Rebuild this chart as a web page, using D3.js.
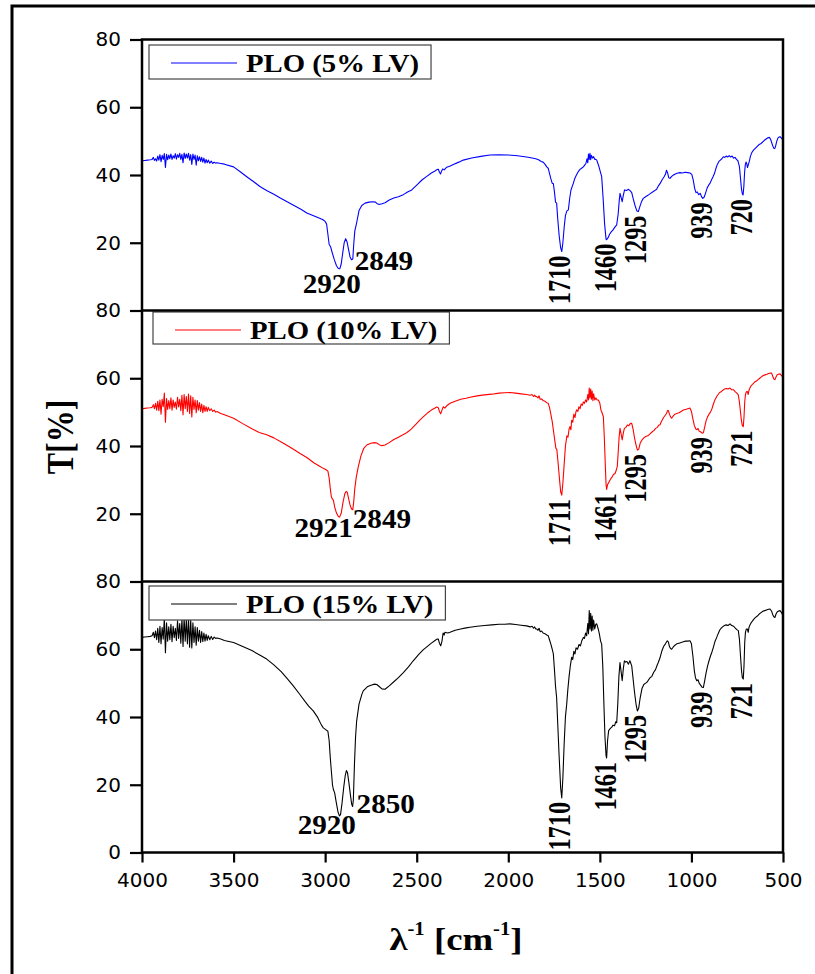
<!DOCTYPE html>
<html>
<head>
<meta charset="utf-8">
<script src="https://cdn.jsdelivr.net/npm/d3@7"></script>
<style>
  body { margin: 0; background: #fff; }
  svg { display: block; }
</style>
</head>
<body>
<svg id="chart" width="815" height="974"></svg>
<script>
// x ticks (wavenumber, cm-1)
const xTicks = [4000, 3500, 3000, 2500, 2000, 1500, 1000, 500];
const seriesNames = ["PLO (5% LV)", "PLO (10% LV)", "PLO (15% LV)"];
const seriesColors = ["#0000ff", "#ff0000", "#000000"];

// [wavenumber, T%]
const plo5 = [
  [4000,44.2],[3985,44.3],[3970,44.4],[3955,44.5],[3945,44.6],[3938,45.2],[3932,44.3],[3926,44.8],[3920,44.1],
  [3914,45.6],[3908,44.4],[3902,46.0],[3896,43.9],[3890,45.8],[3884,44.6],[3878,46.3],[3872,42.2],[3866,46.1],
  [3860,44.5],[3854,45.9],[3848,44.8],[3842,46.2],[3836,44.6],[3830,45.7],[3824,45.0],[3818,46.3],[3812,44.7],
  [3806,46.0],[3800,45.2],[3794,46.4],[3788,44.6],[3782,46.1],[3776,43.6],[3770,46.5],[3764,44.9],[3758,46.2],
  [3752,45.0],[3746,46.4],[3740,44.4],[3734,46.0],[3728,43.1],[3722,46.2],[3716,44.6],[3710,45.9],[3704,42.9],
  [3698,45.7],[3692,44.2],[3686,45.4],[3680,44.0],[3674,45.2],[3668,43.8],[3662,45.0],[3656,43.5],[3650,44.6],
  [3644,43.6],[3638,44.4],[3630,43.5],[3622,44.1],[3614,43.4],[3606,43.8],[3598,43.5],[3590,43.6],[3570,43.4],
  [3550,43.2],[3500,42.4],[3460,40.8],[3428,39.5],[3390,38.0],[3356,36.6],[3320,35.4],[3280,34.3],[3245,33.2],
  [3210,32.2],[3170,31.0],[3130,29.8],[3100,28.8],[3060,27.9],[3030,27.2],[3012,26.8],[3000,26.3],[2992,25.5],
  [2985,22.5],[2978,19.5],[2970,18.8],[2962,17.2],[2950,15.0],[2938,13.2],[2928,12.4],[2920,12.3],[2912,13.8],
  [2904,17.0],[2896,20.0],[2888,21.2],[2880,20.2],[2872,18.0],[2864,15.8],[2856,15.0],[2849,15.2],[2844,19.5],
  [2838,23.5],[2828,25.9],[2815,29.5],[2800,31.0],[2782,31.7],[2760,32.0],[2740,32.1],[2725,32.0],[2718,31.6],
  [2705,31.3],[2690,31.5],[2673,31.8],[2650,32.6],[2625,33.2],[2600,33.6],[2573,34.2],[2550,35.0],[2527,35.6],
  [2500,37.0],[2470,38.6],[2445,39.6],[2420,40.6],[2400,41.2],[2390,41.6],[2382,41.7],[2376,40.8],[2370,40.3],
  [2364,41.2],[2358,41.8],[2350,41.5],[2336,42.3],[2320,42.6],[2300,43.1],[2270,43.8],[2246,44.4],[2200,45.0],
  [2150,45.5],[2100,45.9],[2050,46.0],[2000,45.9],[1950,45.7],[1900,45.3],[1870,45.0],[1850,44.8],[1835,44.5],
  [1820,44.0],[1810,43.8],[1800,43.2],[1790,42.4],[1782,42.0],[1775,40.5],[1768,39.0],[1760,37.5],[1754,37.5],
  [1748,35.0],[1742,32.0],[1736,31.7],[1730,27.0],[1722,22.0],[1714,18.5],[1708,17.4],[1702,20.0],[1695,24.5],
  [1688,28.0],[1680,29.4],[1672,29.7],[1665,33.0],[1658,35.5],[1650,36.8],[1645,37.5],[1638,38.8],[1630,39.8],
  [1620,40.8],[1610,41.6],[1600,42.0],[1590,42.4],[1582,43.0],[1576,43.4],[1570,44.8],[1566,43.6],[1562,46.2],
  [1558,44.6],[1554,46.4],[1550,44.5],[1546,45.8],[1540,45.0],[1534,45.4],[1528,44.6],[1522,44.6],[1517,44.4],
  [1505,42.5],[1495,40.5],[1490,39.5],[1482,33.0],[1474,25.5],[1466,21.0],[1463,20.9],[1455,21.5],[1447,22.5],
  [1438,23.2],[1428,23.8],[1418,24.6],[1408,25.3],[1400,28.5],[1394,32.5],[1390,34.6],[1384,33.4],[1378,32.1],
  [1372,34.0],[1365,35.6],[1355,35.4],[1345,35.8],[1335,35.4],[1326,34.8],[1318,33.0],[1308,31.0],[1298,29.4],
  [1290,29.2],[1282,30.6],[1272,32.2],[1263,33.1],[1250,33.6],[1238,34.0],[1225,34.5],[1212,35.0],[1200,35.4],
  [1190,35.8],[1180,36.8],[1170,37.6],[1160,38.6],[1150,39.4],[1142,40.2],[1136,41.4],[1130,40.6],[1124,39.2],
  [1117,39.0],[1108,39.6],[1098,40.0],[1088,40.3],[1078,40.5],[1063,40.7],[1050,40.6],[1035,40.8],[1020,40.7],
  [1008,40.6],[998,40.2],[990,38.5],[982,36.0],[975,34.8],[968,35.0],[960,34.2],[952,34.6],[945,33.6],[938,33.1],
  [930,33.5],[922,34.8],[914,36.2],[906,37.0],[898,37.6],[890,38.6],[882,39.5],[874,40.5],[866,42.0],[858,43.2],
  [850,44.0],[842,44.4],[834,44.8],[826,45.4],[818,45.2],[810,45.6],[802,45.3],[794,45.7],[786,45.3],[778,45.6],
  [770,45.0],[762,45.2],[754,44.6],[746,44.2],[738,42.5],[732,39.0],[727,36.0],[722,34.4],[718,34.1],[714,36.5],
  [710,40.5],[706,43.0],[702,43.8],[698,43.4],[694,42.2],[690,42.9],[684,44.0],[678,45.5],[672,46.4],[666,47.0],
  [660,47.4],[653,47.8],[645,48.2],[638,48.6],[630,49.0],[622,49.2],[614,49.6],[606,50.0],[598,50.4],[590,50.7],
  [582,51.0],[575,51.1],[568,50.6],[562,49.6],[556,48.6],[550,47.9],[545,47.8],[540,48.6],[534,50.0],[528,50.9],
  [522,51.2],[516,51.3],[510,51.0],[504,50.6],[500,50.4]
];

const plo10 = [
  [4000,51.0],[3985,51.1],[3970,51.2],[3955,51.3],[3945,51.4],[3938,52.2],[3932,51.0],[3926,52.6],[3920,50.6],
  [3914,53.2],[3908,50.4],[3902,53.6],[3896,49.4],[3890,53.8],[3884,51.6],[3878,55.6],[3872,47.0],[3866,54.0],
  [3860,50.8],[3854,53.4],[3848,51.0],[3842,54.2],[3836,50.6],[3830,53.6],[3824,51.4],[3818,53.0],[3812,50.9],
  [3806,54.4],[3800,51.5],[3794,53.8],[3788,50.4],[3782,55.0],[3776,49.2],[3770,55.2],[3764,51.0],[3758,54.6],
  [3752,50.2],[3746,55.3],[3740,49.6],[3734,54.8],[3728,48.6],[3722,54.4],[3716,50.8],[3710,53.6],[3704,49.8],
  [3698,53.4],[3692,50.6],[3686,52.8],[3680,50.2],[3674,52.4],[3668,49.8],[3662,52.0],[3656,50.2],[3650,51.6],
  [3644,50.2],[3638,51.4],[3630,50.4],[3622,51.0],[3614,50.2],[3606,50.6],[3598,50.0],[3590,50.2],[3570,49.6],
  [3550,49.2],[3500,48.2],[3450,46.6],[3400,45.1],[3360,44.0],[3319,43.3],[3280,42.4],[3240,41.2],[3200,39.9],
  [3160,38.6],[3137,37.8],[3100,36.6],[3060,35.0],[3030,34.0],[3010,33.4],[2995,33.0],[2985,32.6],[2978,30.5],
  [2972,27.5],[2966,25.0],[2960,24.3],[2955,24.0],[2948,22.0],[2938,20.2],[2928,19.2],[2921,19.0],[2912,20.2],
  [2902,23.5],[2892,26.0],[2885,26.6],[2879,26.3],[2872,24.5],[2864,22.6],[2856,21.4],[2849,21.2],[2844,23.5],
  [2838,27.5],[2830,30.8],[2819,33.9],[2805,37.0],[2790,39.2],[2773,40.3],[2750,40.8],[2730,41.0],[2718,40.9],
  [2705,40.4],[2690,40.1],[2673,40.3],[2650,41.0],[2625,41.9],[2600,42.6],[2575,43.3],[2555,43.9],[2530,45.0],
  [2505,46.4],[2482,47.7],[2460,48.8],[2440,49.8],[2420,50.6],[2400,51.2],[2391,51.5],[2382,51.3],[2376,50.2],
  [2369,49.5],[2362,50.6],[2355,51.6],[2346,51.2],[2336,51.9],[2318,52.6],[2290,53.2],[2260,53.8],[2230,54.1],
  [2209,54.4],[2170,54.8],[2130,55.1],[2090,55.3],[2050,55.6],[2020,55.7],[1991,55.8],[1960,55.6],[1930,55.4],
  [1900,55.2],[1880,55.0],[1870,55.2],[1862,54.6],[1856,55.0],[1850,54.6],[1845,54.6],[1838,54.2],[1832,54.8],
  [1826,53.8],[1818,53.9],[1810,53.4],[1800,53.2],[1790,52.8],[1782,52.6],[1775,51.4],[1768,49.5],[1760,47.2],
  [1752,44.0],[1746,41.6],[1740,39.3],[1735,39.0],[1728,35.0],[1720,30.0],[1714,26.5],[1708,25.5],[1702,29.0],
  [1695,34.5],[1688,40.0],[1680,43.0],[1674,42.6],[1668,45.0],[1663,45.7],[1658,44.8],[1654,47.6],[1648,47.0],
  [1642,49.4],[1636,48.4],[1630,50.2],[1626,50.7],[1620,50.2],[1614,51.6],[1608,51.0],[1602,52.4],[1596,52.0],
  [1590,53.0],[1584,52.6],[1578,53.6],[1572,53.0],[1566,55.2],[1562,53.6],[1558,57.1],[1554,54.2],[1550,56.8],
  [1546,53.8],[1542,56.2],[1538,53.4],[1534,55.4],[1528,53.6],[1522,54.2],[1515,53.6],[1508,53.6],[1500,52.6],
  [1494,50.6],[1488,49.8],[1481,48.7],[1476,43.0],[1470,34.0],[1466,28.5],[1463,27.2],[1458,28.6],[1450,29.4],
  [1442,30.2],[1434,30.8],[1426,31.6],[1417,31.9],[1412,32.6],[1405,33.9],[1400,38.0],[1395,42.5],[1390,45.2],
  [1384,43.6],[1378,41.8],[1372,43.8],[1366,45.2],[1358,45.5],[1350,46.2],[1342,46.0],[1334,46.6],[1326,46.7],
  [1318,44.8],[1310,42.2],[1302,40.2],[1295,38.8],[1288,39.0],[1280,40.8],[1270,41.8],[1260,42.4],[1250,42.8],
  [1238,43.0],[1226,43.6],[1214,44.2],[1204,44.6],[1195,45.2],[1186,45.5],[1178,46.2],[1172,46.2],[1166,47.0],
  [1160,47.6],[1152,48.4],[1144,49.0],[1136,49.6],[1130,50.5],[1126,50.5],[1120,49.4],[1114,48.6],[1108,48.2],
  [1100,48.8],[1090,49.4],[1080,49.6],[1068,49.8],[1056,50.2],[1044,50.6],[1032,50.8],[1020,51.0],[1008,51.2],
  [1000,50.2],[992,48.0],[984,46.0],[976,45.0],[970,44.8],[964,45.2],[958,44.4],[950,44.2],[942,43.8],[935,43.9],
  [928,45.5],[920,47.4],[912,48.6],[904,49.4],[896,50.0],[888,51.0],[880,52.4],[872,53.6],[862,54.6],[854,55.2],
  [846,55.8],[838,56.0],[830,56.4],[820,56.8],[810,57.0],[800,56.8],[789,57.1],[780,56.6],[770,56.6],[760,56.0],
  [752,55.6],[744,55.1],[738,53.0],[732,50.0],[727,47.5],[722,46.0],[717,45.7],[713,48.5],[709,53.0],[705,55.2],
  [700,56.0],[695,56.1],[690,55.2],[686,56.4],[680,57.2],[674,57.8],[666,58.2],[659,58.6],[653,59.0],[645,59.2],
  [636,59.6],[627,60.0],[618,60.4],[608,60.8],[598,61.0],[588,61.2],[580,61.4],[572,61.5],[562,61.5],[556,60.6],
  [550,59.8],[544,59.6],[538,60.4],[532,61.0],[526,61.2],[516,61.3],[508,60.8],[500,60.3]
];

const plo15 = [
  [4000,63.5],[3985,63.6],[3970,63.7],[3955,63.8],[3945,64.0],[3938,65.0],[3932,63.4],[3926,65.4],[3920,62.8],
  [3914,66.2],[3908,62.0],[3902,66.8],[3896,61.6],[3890,66.4],[3884,63.0],[3878,69.2],[3872,59.0],[3866,67.8],
  [3860,62.4],[3854,66.6],[3848,62.8],[3842,67.4],[3836,62.2],[3830,66.8],[3824,63.4],[3818,66.2],[3812,62.6],
  [3806,68.4],[3800,63.2],[3794,67.6],[3788,61.8],[3782,69.0],[3776,60.8],[3770,69.4],[3764,62.4],[3758,68.8],
  [3752,61.6],[3746,69.2],[3740,60.6],[3734,68.6],[3728,60.4],[3722,67.8],[3716,62.0],[3710,66.6],[3704,61.2],
  [3698,66.4],[3692,62.4],[3686,65.6],[3680,62.0],[3674,65.2],[3668,62.2],[3662,64.8],[3656,62.4],[3650,64.4],
  [3644,62.6],[3638,64.0],[3630,62.8],[3622,63.8],[3614,62.9],[3606,63.6],[3598,63.2],[3590,63.3],[3570,63.0],
  [3550,62.6],[3500,62.0],[3450,60.8],[3400,59.6],[3360,58.4],[3319,57.1],[3280,55.4],[3240,53.4],[3200,50.9],
  [3174,49.2],[3140,46.8],[3110,44.6],[3090,43.2],[3065,41.8],[3040,39.8],[3020,37.6],[3010,36.8],[2995,36.2],
  [2985,35.8],[2978,33.0],[2972,28.0],[2966,24.0],[2960,20.0],[2955,18.6],[2948,17.6],[2940,15.0],[2930,12.0],
  [2922,10.8],[2916,11.2],[2908,14.5],[2898,19.5],[2890,22.8],[2884,24.2],[2878,23.6],[2870,20.5],[2862,17.0],
  [2855,14.2],[2850,13.6],[2846,15.5],[2840,26.0],[2834,34.0],[2828,38.8],[2815,43.8],[2800,46.6],[2792,47.7],
  [2770,48.9],[2750,49.4],[2730,49.7],[2718,49.6],[2705,49.0],[2690,48.3],[2673,48.2],[2650,49.2],[2625,50.4],
  [2600,51.6],[2573,53.1],[2545,54.8],[2519,56.6],[2490,58.4],[2465,59.8],[2445,60.7],[2420,61.8],[2400,62.6],
  [2390,63.0],[2382,63.0],[2376,61.8],[2369,61.0],[2362,62.4],[2356,64.8],[2350,64.2],[2346,65.0],[2330,64.8],
  [2318,65.0],[2290,65.6],[2260,66.0],[2230,66.3],[2209,66.5],[2170,66.8],[2130,67.0],[2090,67.2],[2050,67.4],
  [2020,67.4],[1991,67.5],[1960,67.3],[1930,67.1],[1900,66.9],[1880,66.6],[1870,66.8],[1862,66.2],[1856,66.6],
  [1850,66.0],[1845,66.0],[1838,65.6],[1832,66.2],[1826,65.2],[1818,65.4],[1810,64.8],[1800,64.6],[1790,64.2],
  [1782,64.0],[1775,62.8],[1768,61.6],[1760,60.0],[1754,58.6],[1748,54.0],[1742,49.0],[1736,45.7],[1730,38.0],
  [1722,28.0],[1714,19.0],[1708,16.1],[1702,22.0],[1695,32.0],[1688,40.0],[1681,43.8],[1675,48.0],[1668,52.0],
  [1661,55.2],[1654,57.6],[1648,57.0],[1642,59.4],[1636,58.6],[1630,60.4],[1622,60.0],[1614,61.4],[1606,61.0],
  [1598,62.6],[1590,63.5],[1584,63.2],[1578,64.8],[1572,64.0],[1566,67.6],[1562,64.6],[1558,71.4],[1554,66.0],
  [1550,70.6],[1546,65.4],[1542,69.8],[1538,65.6],[1534,68.6],[1528,66.0],[1522,67.4],[1517,67.5],[1510,66.2],
  [1503,64.6],[1496,62.4],[1490,61.5],[1484,55.0],[1478,44.0],[1472,34.0],[1466,28.5],[1463,27.9],[1458,33.0],
  [1452,36.0],[1446,36.4],[1440,36.8],[1435,37.0],[1428,37.6],[1420,37.4],[1413,38.6],[1408,38.3],[1402,44.0],
  [1396,52.0],[1390,56.1],[1384,53.4],[1378,50.7],[1372,54.2],[1366,56.6],[1360,56.2],[1352,56.4],[1344,55.6],
  [1336,56.6],[1326,55.1],[1318,51.0],[1310,47.0],[1302,43.6],[1295,41.8],[1288,42.6],[1280,45.6],[1270,48.4],
  [1260,49.6],[1250,50.0],[1244,50.2],[1236,50.8],[1226,51.6],[1216,52.0],[1206,53.2],[1196,54.0],[1188,55.2],
  [1181,56.1],[1172,57.4],[1162,59.4],[1152,60.8],[1142,61.6],[1132,62.5],[1126,62.2],[1120,60.8],[1114,60.2],
  [1108,60.0],[1100,60.6],[1090,61.2],[1080,61.6],[1068,61.8],[1056,62.0],[1044,62.2],[1032,62.4],[1020,62.4],
  [1008,62.5],[1000,61.6],[992,58.0],[984,53.6],[978,51.6],[971,50.7],[964,51.0],[958,50.0],[950,49.4],[942,48.8],
  [935,48.7],[928,50.6],[920,53.0],[912,55.0],[904,56.6],[896,58.0],[888,59.2],[880,60.6],[872,62.2],[862,63.5],
  [854,64.6],[846,65.6],[838,66.2],[830,66.6],[820,67.0],[810,67.2],[800,67.0],[789,67.5],[780,67.0],[770,66.8],
  [760,66.2],[752,65.8],[744,65.5],[738,63.0],[732,58.0],[727,54.0],[722,51.6],[717,51.2],[713,55.0],[709,62.0],
  [705,65.0],[700,66.0],[695,66.0],[690,65.0],[686,66.4],[680,67.2],[674,67.8],[666,68.4],[659,68.9],[650,69.4],
  [640,69.8],[630,70.4],[620,70.8],[610,71.2],[600,71.4],[590,71.6],[580,71.8],[571,71.9],[562,71.2],[556,70.2],
  [550,69.6],[544,69.4],[538,70.4],[532,71.0],[524,71.3],[516,71.4],[508,70.8],[500,70.0]
];

// peak labels: first two are written flat, the rest turned up
const peaks5 = ["2920", "2849", "1710", "1460", "1295", "939", "720"];
const peaks10 = ["2921", "2849", "1711", "1461", "1295", "939", "721"];
const peaks15 = ["2920", "2850", "1710", "1461", "1295", "939", "721"];

const svg = d3.select("#chart");
const serif = "'Liberation Serif', 'Times New Roman', Times, serif";
const sans = "'DejaVu Sans', Verdana, sans-serif";

var plotLeft = 142, plotRight = 783, plotTop = 39.5, panelH = 271;

var x = d3.scaleLinear().domain([4000, 500]).range([plotLeft, plotRight]);

// outer frame (runs off the right and bottom edges)
svg.append("rect")
  .attr("x", 12).attr("y", 6)
  .attr("width", 900).attr("height", 1100)
  .attr("fill", "none").attr("stroke", "#000").attr("stroke-width", 3);

var panels = [
  { data: plo5, peaks: peaks5, yTicks: [20, 40, 60, 80], legX: 149, legDy: 5.5, legH: 34, hOff: [[-8, 24], [2, 10]] },
  { data: plo10, peaks: peaks10, yTicks: [20, 40, 60, 80], legX: 153, legDy: 1.5, legH: 32, hOff: [[-16, 20], [0, 18]] },
  { data: plo15, peaks: peaks15, yTicks: [0, 20, 40, 60, 80], legX: 149, legDy: 4.5, legH: 34, hOff: [[-13, 18], [4, 7]] }
];

var defs = svg.append("defs");

panels.forEach(function (p, i) {
  var top = plotTop + i * panelH;
  var y = d3.scaleLinear().domain([0, 80]).range([top + panelH, top]);
  var g = svg.append("g");

  defs.append("clipPath").attr("id", "clip" + i)
    .append("rect")
    .attr("x", plotLeft - 2).attr("y", top)
    .attr("width", plotRight - plotLeft + 2).attr("height", panelH);

  var line = d3.line().x(function (d) { return x(d[0]); }).y(function (d) { return y(d[1]); });

  g.append("path")
    .datum(p.data)
    .attr("clip-path", "url(#clip" + i + ")")
    .attr("d", line)
    .attr("fill", "none")
    .attr("stroke", seriesColors[i])
    .attr("stroke-width", 1.1)
    .attr("stroke-linejoin", "round");

  // y axis
  var ay = g.append("g")
    .attr("transform", "translate(" + plotLeft + ",0)")
    .call(d3.axisLeft(y).tickValues(p.yTicks).tickSize(12).tickSizeOuter(0).tickPadding(9));
  ay.select(".domain").remove();
  ay.selectAll(".tick line").attr("stroke", "#000").attr("stroke-width", 2.2);
  ay.selectAll(".tick text")
    .attr("font-family", sans).attr("font-size", 20).attr("fill", "#000");

  // peak labels
  p.peaks.forEach(function (lab, k) {
    var wn = +lab;
    var near = p.data.filter(function (d) { return Math.abs(d[0] - wn) <= 15; });
    var minT = d3.min(near, function (d) { return d[1]; });
    var px = x(wn), py = y(minT);
    var t = g.append("text")
      .attr("font-family", serif).attr("font-weight", "bold").attr("font-size", 27)
      .attr("fill", "#000")
      .text(lab);
    if (k < 2) {
      t.attr("text-anchor", k === 0 ? "middle" : "start")
        .attr("transform", "translate(" + (px + p.hOff[k][0]) + "," + (py + p.hOff[k][1]) + ") scale(1.08,1)");
    } else {
      t.attr("text-anchor", "end")
        .attr("transform", "translate(" + (px + 9) + "," + (py + 4) + ") rotate(-90) scale(0.9,1.2)");
    }
  });

  // legend
  var ly = top + p.legDy;
  var leg = g.append("g");
  var box = leg.append("rect")
    .attr("x", p.legX).attr("y", ly)
    .attr("height", p.legH)
    .attr("fill", "#fff").attr("stroke", "#444").attr("stroke-width", 1.2);
  leg.append("line")
    .attr("x1", p.legX + 22).attr("x2", p.legX + 88)
    .attr("y1", ly + 18).attr("y2", ly + 18)
    .attr("stroke", seriesColors[i]).attr("stroke-width", 1.1);
  var lt = leg.append("text")
    .attr("transform", "translate(" + (p.legX + 97) + "," + (ly + 27) + ") scale(1.15,1)")
    .attr("font-family", serif).attr("font-weight", "bold").attr("font-size", 25)
    .attr("fill", "#000")
    .text(seriesNames[i]);
  var tw = lt.node().getComputedTextLength() * 1.15;
  box.attr("width", 97 + tw + 12);
});

// plot frame and panel separators
var frame = svg.append("g").attr("fill", "none").attr("stroke", "#000").attr("stroke-width", 2.5);
frame.append("rect")
  .attr("x", plotLeft).attr("y", plotTop)
  .attr("width", plotRight - plotLeft).attr("height", 3 * panelH);
[1, 2].forEach(function (k) {
  frame.append("line")
    .attr("x1", plotLeft).attr("x2", plotRight)
    .attr("y1", plotTop + k * panelH).attr("y2", plotTop + k * panelH);
});

// x axis
var ax = svg.append("g")
  .attr("transform", "translate(0," + (plotTop + 3 * panelH) + ")")
  .call(d3.axisBottom(x).tickValues(xTicks).tickSize(10).tickSizeOuter(0).tickPadding(10).tickFormat(d3.format("d")));
ax.select(".domain").remove();
ax.selectAll(".tick line").attr("stroke", "#000").attr("stroke-width", 2.2);
ax.selectAll(".tick text").attr("font-family", sans).attr("font-size", 20).attr("fill", "#000");

// axis titles
var xt = svg.append("text")
  .attr("transform", "translate(456,950) scale(1.15,1)")
  .attr("text-anchor", "middle")
  .attr("font-family", serif).attr("font-weight", "bold").attr("font-size", 32)
  .attr("fill", "#000");
xt.append("tspan").text("λ");
xt.append("tspan").attr("font-size", 18).attr("dy", -15).text("-1");
xt.append("tspan").attr("dy", 15).text(" [cm");
xt.append("tspan").attr("font-size", 18).attr("dy", -15).text("-1");
xt.append("tspan").attr("dy", 15).text("]");

svg.append("text")
  .attr("transform", "translate(73,437) rotate(-90) scale(1,1.17)")
  .attr("text-anchor", "middle")
  .attr("font-family", serif).attr("font-weight", "bold").attr("font-size", 32)
  .attr("fill", "#000")
  .text("T[%]");
</script>
</body>
</html>
